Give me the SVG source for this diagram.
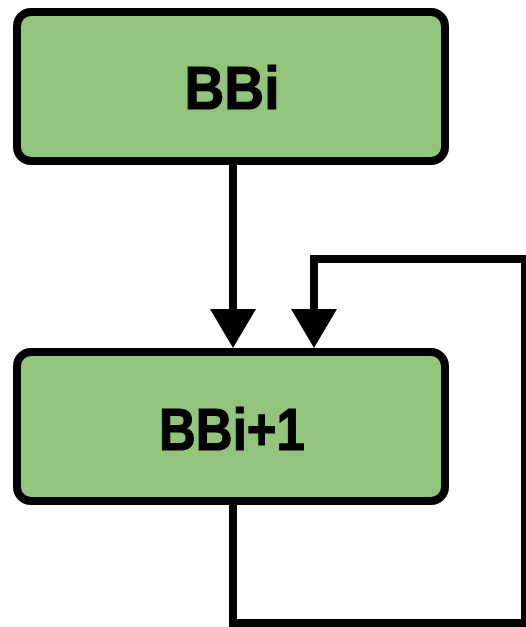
<svg xmlns="http://www.w3.org/2000/svg" width="526" height="627" viewBox="0 0 526 627">
  <style>
    .node rect { fill: #93c47d; stroke: #000; stroke-width: 8; }
    .node text { font-family: "Liberation Sans", Arial, sans-serif; font-weight: bold; fill: #000; stroke: #000; stroke-width: 1.2; }
    .edge { fill: none; stroke: #000; stroke-width: 8; stroke-linejoin: miter; stroke-linecap: butt; }
    .head { fill: #000; stroke: none; }
  </style>
  <rect width="526" height="627" fill="#fff"/>
  <g id="connectors">
    <path class="edge" d="M233 161 L233 312"/>
    <polygon class="head" points="210,309 256,309 233,348"/>
    <path class="edge" d="M233 501 L233 623 L525 623 L525 259 L314 259 L314 312"/>
    <polygon class="head" points="291,309 337,309 314,348"/>
  </g>
  <g id="node-bbi" class="node">
    <rect x="17" y="12" width="428" height="149" rx="14" ry="14"/>
    <text x="232" y="109" font-size="61" text-anchor="middle" textLength="95" lengthAdjust="spacingAndGlyphs">BBi</text>
  </g>
  <g id="node-bbi1" class="node">
    <rect x="17" y="352" width="428" height="149" rx="14" ry="14"/>
    <text x="232" y="450" font-size="59" text-anchor="middle" textLength="146" lengthAdjust="spacingAndGlyphs">BBi+1</text>
  </g>
</svg>
